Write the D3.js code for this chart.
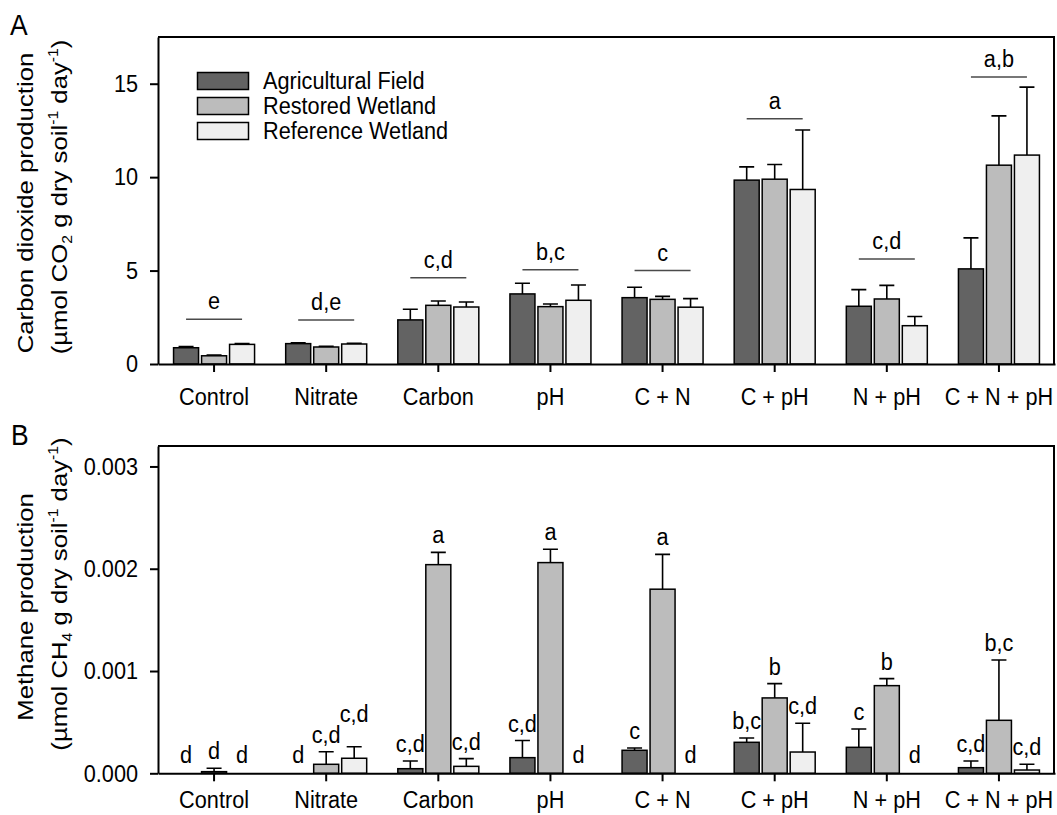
<!DOCTYPE html>
<html><head><meta charset="utf-8">
<script src="https://cdn.jsdelivr.net/npm/d3@7"></script>
<style>
body{margin:0;background:#fff}
text{font-family:Arial,"Liberation Sans",sans-serif;fill:#000}
</style>
</head><body>
<svg id="chart" width="1057" height="815"></svg>
<script>
// ---------- data ----------
const categories = ["Control","Nitrate","Carbon","pH","C + N","C + pH","N + pH","C + N + pH"];
const seriesNames = ["Agricultural Field","Restored Wetland","Reference Wetland"];

// Panel A: CO2 production
const co2Agri      = [0.87, 1.09, 2.36, 3.75, 3.55, 9.84, 3.09, 5.09];
const co2AgriErr   = [0.06, 0.05, 0.57, 0.57, 0.56, 0.71, 0.89, 1.66];
const co2Rest      = [0.44, 0.91, 3.14, 3.07, 3.46, 9.89, 3.48, 10.64];
const co2RestErr   = [0.04, 0.04, 0.23, 0.14, 0.16, 0.79, 0.73, 2.64];
const co2Ref       = [1.05, 1.07, 3.05, 3.41, 3.04, 9.34, 2.05, 11.18];
const co2RefErr    = [0.04, 0.04, 0.27, 0.82, 0.46, 3.18, 0.49, 3.64];
const co2Letters   = ["e","d,e","c,d","b,c","c","a","c,d","a,b"];
const co2SigLevel  = [2.39, 2.36, 4.62, 5.05, 5.0, 13.12, 5.62, 15.36];
const co2Ticks     = [0, 5, 10, 15];

// Panel B: CH4 production
const ch4Agri      = [0, 0, 0.000045, 0.000153, 0.000225, 0.000303, 0.000254, 0.000055];
const ch4AgriErr   = [0, 0, 0.000075, 0.000167, 0.000023, 0.000042, 0.000179, 0.000065];
const ch4Rest      = [0.000016, 0.000088, 0.00204, 0.00206, 0.0018, 0.000737, 0.000857, 0.000518];
const ch4RestErr   = [0.000034, 0.000122, 0.00012, 0.00013, 0.00034, 0.00014, 0.000069, 0.00059];
const ch4Ref       = [0, 0.000147, 0.000068, 0, 0, 0.000208, 0, 0.000032];
const ch4RefErr    = [0, 0.000113, 0.000075, 0, 0, 0.000282, 0, 0.000056];
const ch4LettersAgri = ["d","d","c,d","c,d","c","b,c","c","c,d"];
const ch4LettersRest = ["d","c,d","a","a","a","b","b","b,c"];
const ch4LettersRef  = ["d","c,d","c,d","d","d","c,d","d","c,d"];
const ch4Ticks     = [0, 0.001, 0.002, 0.003];

// ---------- layout ----------
const svg = d3.select("#chart");
svg.append("rect").attr("width",1057).attr("height",815).attr("fill","#fff");
const L = 158, R = 1055;
const FS = 21.7;     // horizontal text size
const K = 1.12;      // vertical stretch of the original figure
const x = d3.scaleBand().domain(categories).range([L, R]).padding(0);
const xi = d3.scaleBand().domain(seriesNames).range([-42, 42]).paddingInner(3/28).paddingOuter(1.5/28);
const color = d3.scaleOrdinal().domain(seriesNames).range(["#636363","#bcbcbc","#efefef"]);

function htext(g, tx, ty, str, anchor, size){
  return g.append("text").attr("transform",`translate(${tx},${ty}) scale(1,${K})`)
    .attr("text-anchor",anchor||"start").attr("font-size",size||FS).text(str);
}

function rows(vals, errs){
  const out = [];
  categories.forEach((c,i)=>{
    seriesNames.forEach((s,j)=>{
      out.push({cat:c, ser:s, v:vals[j][i], e:errs[j][i], i, j});
    });
  });
  return out;
}

function drawPanel(cfg){
  const g = svg.append("g");
  const y = d3.scaleLinear().domain(cfg.domain).range([cfg.bottom, cfg.top]);
  g.append("path").attr("d", `M${L},${cfg.top}H${R-1}V${cfg.bottom}`)
    .attr("fill","none").attr("stroke","#000").attr("stroke-width",2);

  const data = rows(cfg.vals, cfg.errs);
  const cx = d => x(d.cat) + x.bandwidth()/2 + xi(d.ser) + xi.bandwidth()/2;
  g.selectAll(".eb").data(data.filter(d=>d.e>0)).enter().append("path")
    .attr("d", d=>`M${cx(d)},${y(d.v)}V${y(d.v+d.e)}M${cx(d)-7.5},${y(d.v+d.e)}H${cx(d)+7.5}`)
    .attr("stroke","#000").attr("stroke-width",1.6).attr("fill","none");
  g.selectAll(".bar").data(data.filter(d=>d.v>0)).enter().append("rect")
    .attr("x", d=>x(d.cat)+x.bandwidth()/2+xi(d.ser))
    .attr("y", d=>y(d.v))
    .attr("width", xi.bandwidth())
    .attr("height", d=>y(0)-y(d.v))
    .attr("fill", d=>color(d.ser))
    .attr("stroke","#000").attr("stroke-width",1.5);

  const ya = g.append("g").attr("transform",`translate(${L},0)`)
    .call(d3.axisLeft(y).tickValues(cfg.ticks).tickSize(8).tickSizeOuter(0).tickPadding(12).tickFormat(cfg.fmt));
  ya.selectAll("path,line").attr("stroke","#000").attr("stroke-width",2);
  ya.selectAll("text").attr("font-size",FS).attr("font-family","Arial, 'Liberation Sans', sans-serif")
    .attr("transform",`scale(1,${K})`);
  const xa = g.append("g").attr("transform",`translate(0,${cfg.bottom})`)
    .call(d3.axisBottom(x).tickSize(8).tickSizeOuter(0));
  xa.selectAll("path,line").attr("stroke","#000").attr("stroke-width",2);
  xa.selectAll("text").attr("font-size",FS).attr("font-family","Arial, 'Liberation Sans', sans-serif")
    .attr("dy",0).attr("y", cfg.xbase / K).attr("transform",`scale(1,${K})`);
  return {g, y, data, cx};
}

function yTitle(lines, xs, ys, sub){
  const fs = 23;
  svg.append("text").attr("transform",`translate(${xs[0]},${ys[0]}) rotate(-90) scale(${K},1)`)
    .attr("text-anchor","middle").attr("font-size",fs).text(lines[0]);
  const t = svg.append("text").attr("transform",`translate(${xs[1]},${ys[1]}) rotate(-90) scale(${K},1)`)
    .attr("text-anchor","middle").attr("font-size",fs);
  t.append("tspan").text("(µmol " + lines[1]);
  t.append("tspan").attr("font-size",14).attr("dy",5).text(sub);
  t.append("tspan").attr("dy",-5).text(" g dry soil");
  t.append("tspan").attr("font-size",14).attr("dy",-9).text("-1");
  t.append("tspan").attr("dy",9).text("  day");
  t.append("tspan").attr("font-size",14).attr("dy",-9).text("-1");
  t.append("tspan").attr("dy",9).text(")");
}

// ---------- Panel A ----------
const A = drawPanel({top:37, bottom:364, domain:[0,17.5], ticks:co2Ticks, fmt:d3.format("d"),
  vals:[co2Agri, co2Rest, co2Ref], errs:[co2AgriErr, co2RestErr, co2RefErr], xbase:41});
categories.forEach((c,i)=>{
  const cxc = x(c)+x.bandwidth()/2;
  const yy = A.y(co2SigLevel[i]);
  A.g.append("line").attr("x1",cxc-28).attr("x2",cxc+28).attr("y1",yy).attr("y2",yy)
    .attr("stroke","#4a4a4a").attr("stroke-width",1.5);
  htext(A.g, cxc, yy-10, co2Letters[i], "middle");
});
const leg = svg.append("g");
seriesNames.forEach((s,j)=>{
  leg.append("rect").attr("x",197.5).attr("y",72.5+j*25).attr("width",51).attr("height",17)
    .attr("fill",color(s)).attr("stroke","#000").attr("stroke-width",1.5);
  htext(leg, 263, 88.5+j*25, s, "start");
});
htext(svg, 10, 35, "A", "start", 26.5);
yTitle(["Carbon dioxide production","CO"],[33,66.5],[203,197],"2");

// ---------- Panel B ----------
const B = drawPanel({top:446, bottom:773.3, domain:[0,0.0032], ticks:ch4Ticks, fmt:d3.format(".3f"),
  vals:[ch4Agri, ch4Rest, ch4Ref], errs:[ch4AgriErr, ch4RestErr, ch4RefErr], xbase:35});
const lettersB = [ch4LettersAgri, ch4LettersRest, ch4LettersRef];
categories.forEach((c,i)=>{
  let prev = null;
  seriesNames.forEach((s,j)=>{
    const d = B.data.find(r=>r.cat===c && r.ser===s);
    const cxp = B.cx(d);
    const lab = lettersB[j][i];
    const w = lab.length > 1 ? 29 : 12;
    let base = Math.min(B.y(d.v + d.e) - 9, B.y(0) - 10);
    if (prev && (cxp - w/2) < prev.x2 && base > prev.base - 18 && base - 17 < prev.base) {
      base = prev.base - 17 - 4;
    }
    htext(B.g, cxp, base, lab, "middle");
    prev = {x2: cxp + w/2, base};
  });
});
htext(svg, 11, 445, "B", "start", 26.5);
yTitle(["Methane production","CH"],[33,66.5],[607,594],"4");
</script>
</body></html>
